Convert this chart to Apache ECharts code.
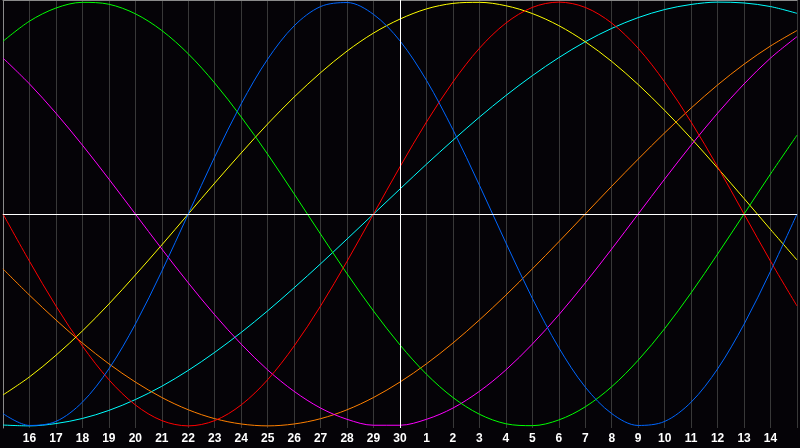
<!DOCTYPE html>
<html>
<head>
<meta charset="utf-8">
<script src="https://cdn.jsdelivr.net/npm/echarts@6/dist/echarts.min.js"></script>
<style>
html,body{margin:0;padding:0;background:#050307;}
#chart{width:800px;height:448px;}
</style>
</head>
<body>
<div id="chart"></div>
<script>
// Day labels (15 .. 30, then 1 .. 15 of the next month); first and last are not printed
const dayLabels = ['15','16','17','18','19','20','21','22','23','24','25','26','27','28','29','30',
  '1','2','3','4','5','6','7','8','9','10','11','12','13','14','15 '];

// Biorhythm cycle values, one per day
const physical = [-0.942,-0.998,-0.979,-0.888,-0.731,-0.520,-0.270,0,0.270,0.520,0.731,0.888,0.979,0.998,0.942,0.817,0.631,0.398,0.136,-0.136,-0.398,-0.631,-0.817,-0.942,-0.998,-0.979,-0.888,-0.731,-0.520,-0.270,0];
const emotional = [0,-0.223,-0.434,-0.623,-0.782,-0.901,-0.975,-1,-0.975,-0.901,-0.782,-0.623,-0.434,-0.223,0,0.223,0.434,0.623,0.782,0.901,0.975,1,0.975,0.901,0.782,0.623,0.434,0.223,0,-0.223,-0.434];
const intellectual = [0.815,0.910,0.972,0.999,0.990,0.945,0.866,0.756,0.618,0.458,0.282,0.095,-0.095,-0.282,-0.458,-0.618,-0.756,-0.866,-0.945,-0.990,-0.999,-0.972,-0.910,-0.815,-0.690,-0.541,-0.372,-0.189,0,0.189,0.372];
const intuitive = [0.736,0.614,0.476,0.325,0.165,0,-0.165,-0.325,-0.476,-0.614,-0.736,-0.837,-0.916,-0.969,-0.997,-0.997,-0.969,-0.916,-0.837,-0.736,-0.614,-0.476,-0.325,-0.165,0,0.165,0.325,0.476,0.614,0.736,0.837];
const aesthetic = [-0.854,-0.769,-0.667,-0.552,-0.425,-0.288,-0.146,0,0.146,0.288,0.425,0.552,0.667,0.769,0.854,0.920,0.968,0.994,0.999,0.983,0.946,0.889,0.813,0.720,0.611,0.489,0.357,0.217,0.073,-0.073,-0.217];
const awareness = [-0.259,-0.383,-0.500,-0.609,-0.707,-0.793,-0.866,-0.924,-0.966,-0.991,-1,-0.991,-0.966,-0.924,-0.866,-0.793,-0.707,-0.609,-0.500,-0.383,-0.259,-0.131,0,0.131,0.259,0.383,0.500,0.609,0.707,0.793,0.866];
const spiritual = [-0.996,-1.000,-0.989,-0.965,-0.927,-0.876,-0.813,-0.738,-0.653,-0.559,-0.457,-0.348,-0.235,-0.118,0,0.118,0.235,0.348,0.457,0.559,0.653,0.738,0.813,0.876,0.927,0.965,0.989,1.000,0.996,0.979,0.947];

const todayIndex = 15;

const seriesDefs = [
  {name:'Spiritual', data:spiritual, color:'#00ffff'},
  {name:'Awareness', data:awareness, color:'#ff8000'},
  {name:'Aesthetic', data:aesthetic, color:'#ffff00'},
  {name:'Intuitive', data:intuitive, color:'#ff00ff'},
  {name:'Intellectual', data:intellectual, color:'#00ff00'},
  {name:'Emotional', data:emotional, color:'#ff0000'},
  {name:'Physical', data:physical, color:'#0066ff'}
];

const chart = echarts.init(document.getElementById('chart'), null, {renderer:'canvas'});
const series = seriesDefs.map(s => ({
  name: s.name, type:'line', data:s.data, smooth:0.33, showSymbol:false, symbol:'none',
  lineStyle:{color:s.color, width:1}, itemStyle:{color:s.color}, silent:true, z:3
}));
series.push({
  type:'line', data:[], silent:true, z:2,
  markLine:{
    symbol:'none', silent:true, label:{show:false},
    lineStyle:{color:'#ffffff', width:1, type:'solid'},
    data:[{yAxis:0},{xAxis:todayIndex}]
  }
});

chart.setOption({
  backgroundColor:'#050307',
  animation:false,
  grid:{left:0, right:0, top:0, bottom:20, containLabel:false},
  xAxis:[{
    type:'category', data:dayLabels, boundaryGap:false,
    axisLine:{show:true, lineStyle:{color:'#a0a0a0', width:1}},
    axisTick:{show:false},
    axisLabel:{
      color:'#ffffff', fontFamily:'Liberation Sans', fontWeight:'bold', fontSize:12, margin:5,
      interval:0,
      formatter:(v, i) => (i === 0 || i === dayLabels.length - 1) ? '' : v
    },
    splitLine:{show:true, interval:0, lineStyle:{color:'#383838', width:1}}
  },{
    type:'category', data:dayLabels, boundaryGap:false, position:'top',
    axisLine:{show:true, lineStyle:{color:'#8a8a8a', width:1}},
    axisTick:{show:false}, axisLabel:{show:false}, splitLine:{show:false}
  }],
  yAxis:{
    type:'value', min:-1.01, max:1.01,
    axisLine:{show:true, lineStyle:{color:'#8a8a8a', width:1}},
    axisTick:{show:false}, axisLabel:{show:false}, splitLine:{show:false}
  },
  series:series
});
</script>
</body>
</html>
